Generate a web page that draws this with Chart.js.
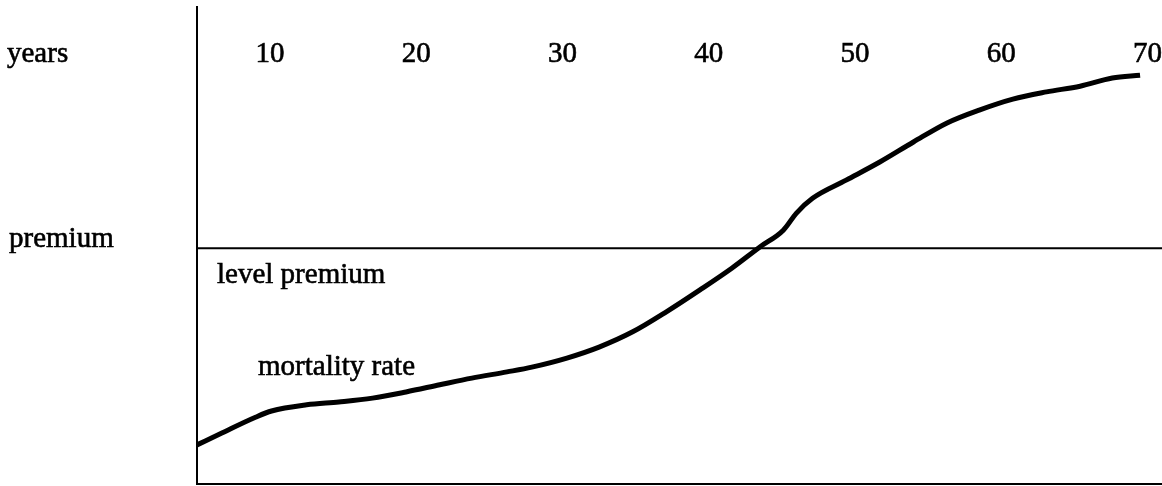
<!DOCTYPE html>
<html>
<head>
<meta charset="utf-8">
<script src="https://cdn.jsdelivr.net/npm/chart.js@4"></script>
<style>
  html, body { margin: 0; padding: 0; background: #fff; }
  canvas { display: block; }
</style>
</head>
<body>
<canvas id="c" width="1162" height="486"></canvas>
<script>
// Tick labels (years) shown along the top
const yearTicks = [10, 20, 30, 40, 50, 60, 70];
// Mortality rate curve: years
const mortalityYears = [5.0, 6.7, 9.0, 10.1, 12.5, 14.7, 17.0, 19.3, 21.6, 23.8, 26.2, 27.9, 30.3, 32.5, 34.8, 37.1, 39.4, 41.6, 43.5, 45.1, 46.0, 47.1, 49.4, 51.7, 54.0, 56.3, 58.5, 60.8, 63.1, 65.4, 67.6, 69.5];
// Mortality rate curve: relative cost
const mortalityValues = [8.2, 10.7, 14.0, 15.3, 16.6, 17.2, 18.0, 19.3, 20.8, 22.2, 23.5, 24.5, 26.4, 28.7, 31.9, 36.1, 40.7, 45.3, 49.7, 53.2, 56.8, 59.9, 63.7, 67.5, 71.7, 75.7, 78.4, 80.7, 82.2, 83.4, 85.1, 85.7];
// Level premium (constant)
const levelPremium = 49.4;
const xRange = [5, 71];
const yRange = [0, 100];

const FONT = '29px "Liberation Serif", "Times New Roman", serif';

const textPlugin = {
  id: 'textLabels',
  afterDraw(chart) {
    const ctx = chart.ctx;
    const xs = chart.scales.x;
    const ys = chart.scales.y;
    ctx.save();
    ctx.fillStyle = '#000';
    ctx.strokeStyle = '#000';
    ctx.lineWidth = 0.6;
    ctx.font = FONT;
    ctx.textBaseline = 'alphabetic';
    const put = (t, x, y) => { ctx.fillText(t, x, y); ctx.strokeText(t, x, y); };
    // year tick labels along the top
    ctx.textAlign = 'center';
    yearTicks.forEach(v => {
      put(String(v), xs.getPixelForValue(v), 62);
    });
    ctx.textAlign = 'left';
    put('years', 7, 62);
    put('premium', 9, ys.getPixelForValue(levelPremium) - 1);
    put('level premium', 217, ys.getPixelForValue(levelPremium) + 35);
    put('mortality rate', 258, 375);
    ctx.restore();
  }
};

new Chart(document.getElementById('c'), {
  type: 'line',
  data: {
    datasets: [
      {
        label: 'mortality rate',
        data: mortalityYears.map((x, i) => ({ x, y: mortalityValues[i] })),
        borderColor: '#000',
        borderWidth: 5,
        pointRadius: 0,
        tension: 0.4,
        cubicInterpolationMode: 'monotone',
        fill: false
      },
      {
        label: 'level premium',
        data: [{ x: xRange[0], y: levelPremium }, { x: xRange[1], y: levelPremium }],
        borderColor: '#000',
        borderWidth: 2,
        pointRadius: 0,
        fill: false
      }
    ]
  },
  options: {
    responsive: false,
    animation: false,
    layout: { padding: { left: 197, top: 7, right: 0, bottom: 2 } },
    plugins: { legend: { display: false }, tooltip: { enabled: false } },
    scales: {
      x: {
        type: 'linear',
        min: xRange[0],
        max: xRange[1],
        ticks: { display: false },
        grid: { display: false, drawTicks: false },
        border: { display: true, color: '#000', width: 2 }
      },
      y: {
        type: 'linear',
        min: yRange[0],
        max: yRange[1],
        ticks: { display: false },
        grid: { display: false, drawTicks: false },
        border: { display: true, color: '#000', width: 2 }
      }
    }
  },
  plugins: [textPlugin]
});
</script>
</body>
</html>
